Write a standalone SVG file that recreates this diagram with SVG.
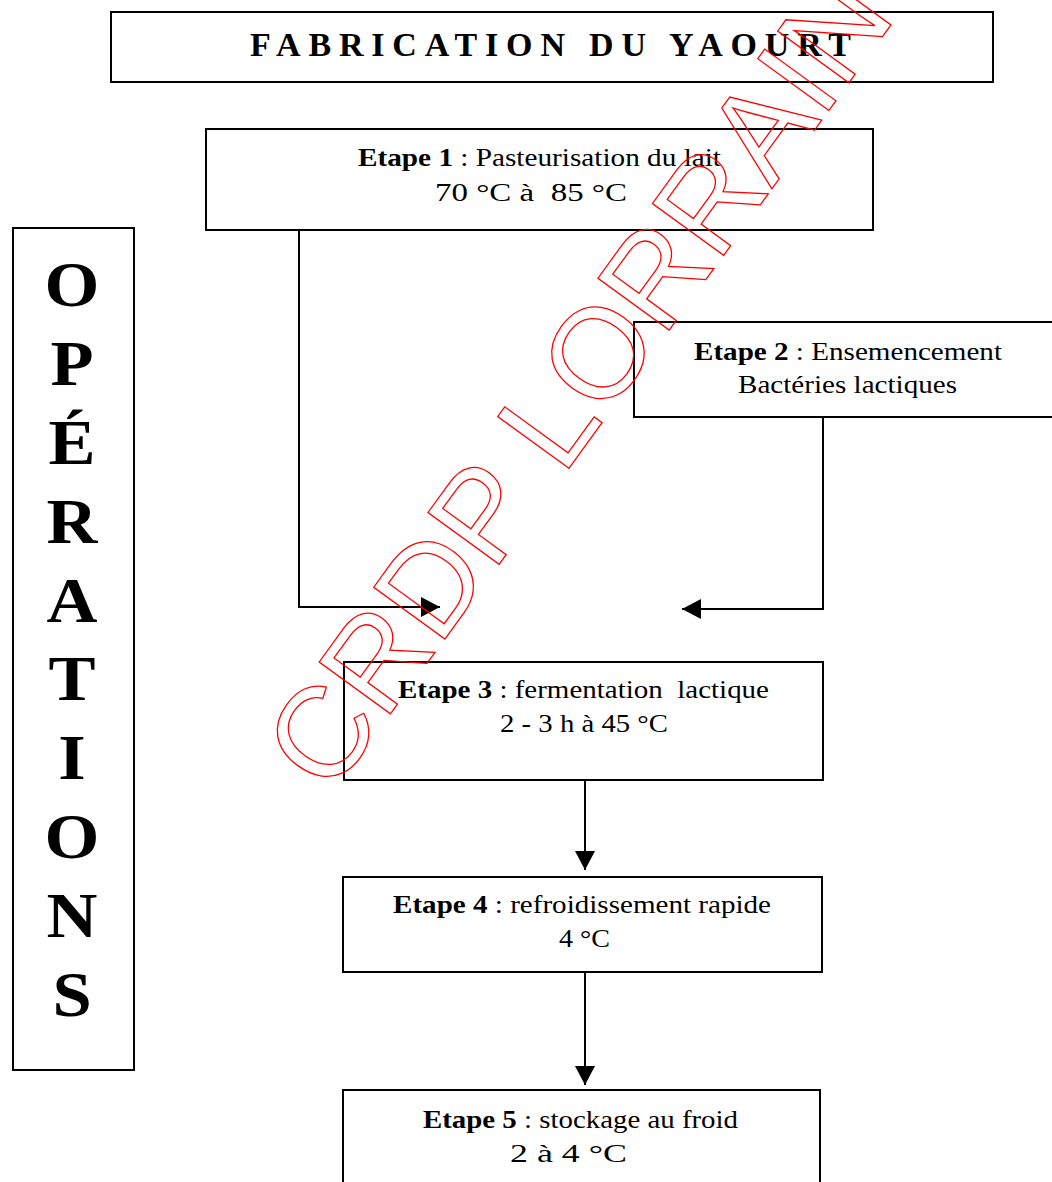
<svg xmlns="http://www.w3.org/2000/svg" width="1052" height="1182" viewBox="0 0 1052 1182">
<style>
.box{fill:none;stroke:#000;stroke-width:2}
.t{font-family:"Liberation Serif","Times New Roman",serif;font-size:26px;fill:#000}
.b{font-weight:bold}
.title{font-family:"Liberation Serif","Times New Roman",serif;font-size:34px;font-weight:bold;fill:#000}
.op{font-family:"Liberation Serif","Times New Roman",serif;font-size:63px;font-weight:bold;fill:#000;text-anchor:middle}
.wire{fill:none;stroke:#000;stroke-width:2}
.wm{font-family:"Liberation Sans",Arial,sans-serif;font-size:128px;fill:none;stroke:#ff0000;stroke-width:1.3}
</style>
<defs>
<marker id="arr" markerUnits="userSpaceOnUse" markerWidth="20" markerHeight="20" refX="19" refY="10" orient="auto">
<path d="M0,0 L19,10 L0,20 Z" fill="#000"/>
</marker>
</defs>
<rect width="1052" height="1182" fill="#fff"/>

<g id="title">
<rect class="box" x="111" y="12" width="882" height="70"/>
<text class="title" x="250" y="56" textLength="601" lengthAdjust="spacing">FABRICATION DU YAOURT</text>
</g>

<g id="operations">
<rect class="box" x="13" y="228" width="121" height="842"/>
<g transform="translate(72,0) scale(1.12,1)">
<text class="op" x="0" y="306">O</text>
<text class="op" x="0" y="385">P</text>
<text class="op" x="0" y="464">É</text>
<text class="op" x="0" y="543">R</text>
<text class="op" x="0" y="622">A</text>
<text class="op" x="0" y="700">T</text>
<text class="op" x="0" y="779">I</text>
<text class="op" x="0" y="858">O</text>
<text class="op" x="0" y="937">N</text>
<text class="op" x="0" y="1016">S</text>
</g>
</g>

<g id="etape1">
<rect class="box" x="206" y="129" width="667" height="101"/>
<text class="t" x="358" y="166" textLength="363" lengthAdjust="spacingAndGlyphs"><tspan class="b">Etape 1</tspan> : Pasteurisation du lait</text>
<text class="t" x="435" y="201" textLength="192" lengthAdjust="spacingAndGlyphs" xml:space="preserve">70 °C à  85 °C</text>
</g>

<g id="etape2">
<rect class="box" x="634" y="322" width="440" height="95"/>
<text class="t" x="694" y="360" textLength="308" lengthAdjust="spacingAndGlyphs"><tspan class="b">Etape 2</tspan> : Ensemencement</text>
<text class="t" x="738" y="393" textLength="219" lengthAdjust="spacingAndGlyphs">Bactéries lactiques</text>
</g>

<g id="etape3">
<rect class="box" x="344" y="662" width="479" height="118"/>
<text class="t" x="398" y="698" textLength="371" lengthAdjust="spacingAndGlyphs" xml:space="preserve"><tspan class="b">Etape 3</tspan> : fermentation  lactique</text>
<text class="t" x="500" y="732" textLength="168" lengthAdjust="spacingAndGlyphs">2 - 3 h à 45 °C</text>
</g>

<g id="etape4">
<rect class="box" x="343" y="877" width="479" height="95"/>
<text class="t" x="393" y="913" textLength="378" lengthAdjust="spacingAndGlyphs"><tspan class="b">Etape 4</tspan> : refroidissement rapide</text>
<text class="t" x="559" y="947" textLength="51" lengthAdjust="spacingAndGlyphs">4 °C</text>
</g>

<g id="etape5">
<rect class="box" x="343" y="1090" width="477" height="120"/>
<text class="t" x="423" y="1128" textLength="315" lengthAdjust="spacingAndGlyphs"><tspan class="b">Etape 5</tspan> : stockage au froid</text>
<text class="t" x="510" y="1162" textLength="117" lengthAdjust="spacingAndGlyphs">2 à 4 °C</text>
</g>

<g id="connectors">
<path class="wire" d="M299,230 V607 H440" marker-end="url(#arr)"/>
<path class="wire" d="M823,417 V609 H682" marker-end="url(#arr)"/>
<path class="wire" d="M585,780 V870" marker-end="url(#arr)"/>
<path class="wire" d="M585,972 V1085" marker-end="url(#arr)"/>
</g>

<g id="watermark">
<text class="wm" transform="translate(330,797) rotate(-54)" x="0" y="0">CRDP LORRAIN</text>
</g>
</svg>
